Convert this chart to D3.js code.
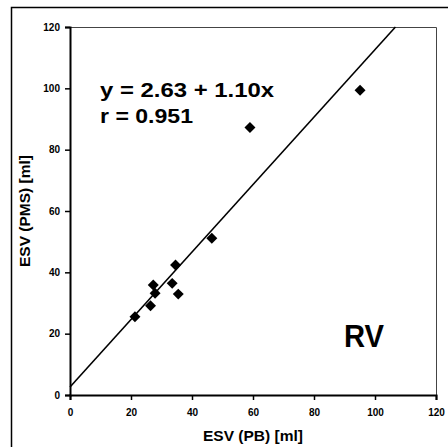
<!DOCTYPE html>
<html>
<head>
<meta charset="utf-8">
<script src="https://cdn.jsdelivr.net/npm/d3@7"></script>
<style>
  body { margin: 0; background: #fff; }
  svg { display: block; font-family: Arial, "Liberation Sans", sans-serif; font-weight: bold; }
</style>
</head>
<body>
<div id="chart1"></div>
<script>
'use strict';

// data
var pbValues = [21.3, 26.4, 27.3, 27.9, 33.5, 34.6, 35.5, 46.5, 59.0, 95.1];
var pmsValues = [25.5, 29.1, 35.9, 33.2, 36.4, 42.4, 32.9, 51.1, 87.2, 99.4];
var tickValues = [0, 20, 40, 60, 80, 100, 120];
var fitIntercept = 2.63;
var fitSlope = 1.10;
var eqLines = ['y = 2.63 + 1.10x', 'r = 0.951'];

var width = 448, height = 447;
var plot = { left: 70, right: 436, top: 27, bottom: 395 };

var svg = d3.select('#chart1').append('svg')
	.attr('width', width)
	.attr('height', height);

// outer frame, runs off right and bottom
svg.append('rect')
	.attr('x', 11.5).attr('y', 7.5)
	.attr('width', 460).attr('height', 460)
	.style('fill', 'none')
	.style('stroke', '#000')
	.style('stroke-width', 1.5);

var x = d3.scaleLinear().domain([0, 120]).range([plot.left, plot.right]);
var y = d3.scaleLinear().domain([0, 120]).range([plot.bottom, plot.top]);

// top / right border of plot area
svg.append('path')
	.attr('d', 'M' + plot.left + ',' + (plot.top + 0.5) + 'H' + (plot.right + 0.5) + 'V' + plot.bottom)
	.style('fill', 'none')
	.style('stroke', '#444')
	.style('stroke-width', 1);

var xAxis = svg.append('g')
	.attr('transform', 'translate(0,' + plot.bottom + ')')
	.call(d3.axisBottom(x).tickValues(tickValues).tickSize(5).tickPadding(9));

var yAxis = svg.append('g')
	.attr('transform', 'translate(' + plot.left + ',0)')
	.call(d3.axisLeft(y).tickValues(tickValues).tickSize(5).tickPadding(5));

[xAxis, yAxis].forEach(function(ax) {
	ax.select('.domain').style('stroke-width', 2).attr('stroke', '#000');
	ax.selectAll('.tick line').style('stroke-width', 1.5).attr('stroke', '#000');
	ax.selectAll('.tick text')
		.style('font-family', 'Arial, "Liberation Sans", sans-serif')
		.style('font-weight', 'bold')
		.style('font-size', '10px')
		.attr('fill', '#000');
});

// fitted line
var xEnd = (120 - fitIntercept) / fitSlope;
svg.append('line')
	.attr('x1', x(0)).attr('y1', y(fitIntercept))
	.attr('x2', x(xEnd)).attr('y2', y(120))
	.style('stroke', '#000')
	.style('stroke-width', 1.6);

// diamonds
var data = pbValues.map(function(v, i) { return { pb: v, pms: pmsValues[i] }; });
var diamond = d3.symbol().type(d3.symbolSquare).size(60);
svg.append('g').selectAll('path')
	.data(data)
	.enter()
	.append('path')
	.attr('d', diamond)
	.attr('transform', function(d) {
		return 'translate(' + x(d.pb) + ',' + y(d.pms) + ') rotate(45)';
	})
	.style('fill', '#000');

// equation text
svg.append('text')
	.attr('x', 100).attr('y', 97)
	.attr('textLength', 174).attr('lengthAdjust', 'spacingAndGlyphs')
	.style('font-size', '21px')
	.text(eqLines[0]);
svg.append('text')
	.attr('x', 100).attr('y', 123)
	.attr('textLength', 93).attr('lengthAdjust', 'spacingAndGlyphs')
	.style('font-size', '21px')
	.text(eqLines[1]);

svg.append('text')
	.attr('x', 344).attr('y', 347)
	.attr('textLength', 40).attr('lengthAdjust', 'spacingAndGlyphs')
	.style('font-size', '32px')
	.text('RV');

// axis titles
svg.append('text')
	.attr('x', 253).attr('y', 441)
	.attr('text-anchor', 'middle')
	.attr('textLength', 100).attr('lengthAdjust', 'spacingAndGlyphs')
	.style('font-size', '14px')
	.text('ESV (PB) [ml]');

svg.append('text')
	.attr('transform', 'translate(30,' + ((plot.top + plot.bottom) / 2) + ') rotate(-90)')
	.attr('text-anchor', 'middle')
	.attr('textLength', 112).attr('lengthAdjust', 'spacingAndGlyphs')
	.style('font-size', '14px')
	.text('ESV (PMS) [ml]');
</script>
</body>
</html>
